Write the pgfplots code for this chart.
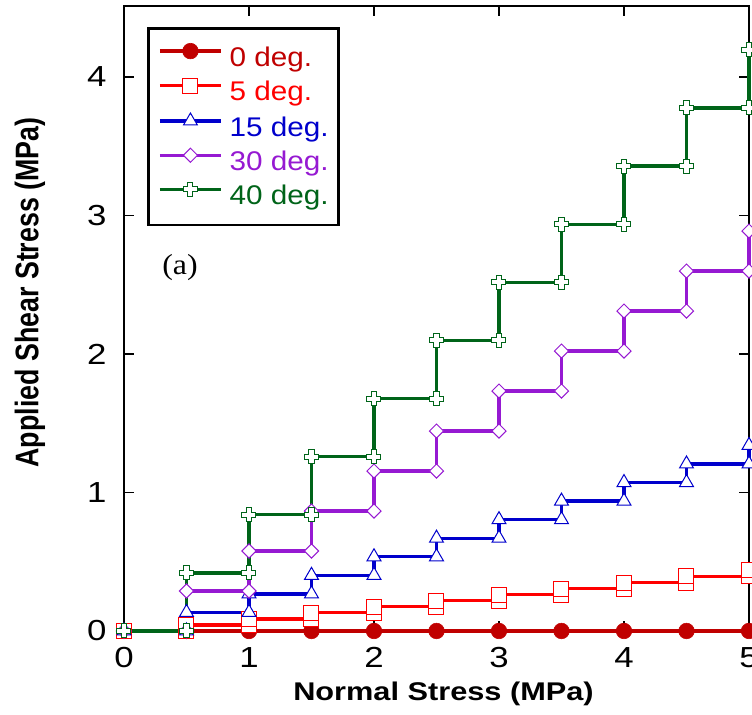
\documentclass[border=0pt]{standalone}
\usepackage{fontspec}
\setmainfont{Liberation Sans}[FakeStretch=1.2]
\newfontfamily\plainsans{Liberation Sans}
\newfontfamily\legsans{Liberation Sans}[FakeStretch=1.1]
\newfontfamily\serifa{Liberation Serif}[FakeStretch=1.1]
\usepackage{graphicx}
\usepackage{pgfplots}
\pgfplotsset{compat=1.18}

\definecolor{c0}{RGB}{192,0,0}
\definecolor{c5}{RGB}{255,0,0}
\definecolor{c15}{RGB}{0,0,204}
\definecolor{c30}{RGB}{150,25,210}
\definecolor{c40}{RGB}{0,100,25}

\pgfdeclareplotmark{oplus}{%
  \pgfpathmoveto{\pgfqpoint{-0.36\pgfplotmarksize}{\pgfplotmarksize}}%
  \pgfpathlineto{\pgfqpoint{0.36\pgfplotmarksize}{\pgfplotmarksize}}%
  \pgfpathlineto{\pgfqpoint{0.36\pgfplotmarksize}{0.36\pgfplotmarksize}}%
  \pgfpathlineto{\pgfqpoint{\pgfplotmarksize}{0.36\pgfplotmarksize}}%
  \pgfpathlineto{\pgfqpoint{\pgfplotmarksize}{-0.36\pgfplotmarksize}}%
  \pgfpathlineto{\pgfqpoint{0.36\pgfplotmarksize}{-0.36\pgfplotmarksize}}%
  \pgfpathlineto{\pgfqpoint{0.36\pgfplotmarksize}{-\pgfplotmarksize}}%
  \pgfpathlineto{\pgfqpoint{-0.36\pgfplotmarksize}{-\pgfplotmarksize}}%
  \pgfpathlineto{\pgfqpoint{-0.36\pgfplotmarksize}{-0.36\pgfplotmarksize}}%
  \pgfpathlineto{\pgfqpoint{-\pgfplotmarksize}{-0.36\pgfplotmarksize}}%
  \pgfpathlineto{\pgfqpoint{-\pgfplotmarksize}{0.36\pgfplotmarksize}}%
  \pgfpathlineto{\pgfqpoint{-0.36\pgfplotmarksize}{0.36\pgfplotmarksize}}%
  \pgfpathclose
  \pgfusepathqfillstroke
}

\begin{document}
\begin{tikzpicture}
\begin{axis}[
  name=ax,
  width=312.5pt, height=312.5pt, scale only axis,
  xmin=0, xmax=5, ymin=0, ymax=4.512,
  xtick={0,1,2,3,4,5}, ytick={0,1,2,3,4},
  clip=false,
  axis line style={black, line width=0.6pt},
  tick align=inside,
  major tick length=5pt,
  tick style={black, line width=0.6pt},
  /pgf/number format/assume math mode=true,
  ticklabel style={font=\fontsize{14.5}{16}\selectfont},
  xticklabel style={inner sep=0pt, yshift=-8pt},
  yticklabel style={inner sep=0pt, xshift=-8.5pt},
  xlabel={\fontsize{12.8}{14}\selectfont\bfseries Normal Stress (MPa)},
  xlabel style={at={(axis description cs:0.5112,-0.1008)}, anchor=center},
  ylabel={\scalebox{1}[1.22]{\fontsize{13.4}{15}\selectfont\plainsans\bfseries Applied Shear Stress (MPa)}},
  ylabel style={at={(axis description cs:-0.1504,0.5416)}, anchor=center},
  legend cell align=left,
  legend style={at={(axis description cs:0.0368,0.9664)}, anchor=north west,
    draw=black, line width=1.3pt, fill=white,
    inner xsep=5pt, inner ysep=7.5pt, row sep=3.25pt,
    font=\fontsize{13.5}{15}\selectfont\legsans,
    nodes={inner sep=0pt, text height=8.5pt, text depth=2.8pt},
    /tikz/every odd column/.append style={column sep=3.5pt}},
  legend image code/.code={%
    \draw[mark repeat=2, mark phase=2, #1] plot coordinates {(0pt,4.7pt) (15.25pt,4.7pt) (30.5pt,4.7pt)};},
]
\addplot[c0, line width=1.65pt, mark=*, mark size=3.9pt, mark options={solid, fill=c0, draw=c0, line width=0.3pt}]
  coordinates {(0,0)(0.5,0)(1,0)(1.5,0)(2,0)(2.5,0)(3,0)(3.5,0)(4,0)(4.5,0)(5,0)};
\addlegendentry{\textcolor{c0}{0 deg.}}

\addplot[c5, line width=1.65pt, mark=square*, mark size=3.75pt, mark options={solid, fill=white, draw=c5, line width=0.5pt}]
  coordinates {(0,0)(0.5,0)(0.5,0.0437)(1,0.0437)(1,0.0875)(1.5,0.0875)(1.5,0.1312)(2,0.1312)(2,0.1750)(2.5,0.1750)(2.5,0.2187)(3,0.2187)(3,0.2624)(3.5,0.2624)(3.5,0.3062)(4,0.3062)(4,0.3499)(4.5,0.3499)(4.5,0.3937)(5,0.3937)(5,0.4374)};
\addlegendentry{\textcolor{c5}{5 deg.}}

\addplot[c15, line width=1.65pt, mark=triangle*, mark size=4pt, mark options={solid, fill=white, draw=c15, line width=0.5pt}]
  coordinates {(0,0)(0.5,0)(0.5,0.1340)(1,0.1340)(1,0.2679)(1.5,0.2679)(1.5,0.4019)(2,0.4019)(2,0.5359)(2.5,0.5359)(2.5,0.6699)(3,0.6699)(3,0.8038)(3.5,0.8038)(3.5,0.9378)(4,0.9378)(4,1.0718)(4.5,1.0718)(4.5,1.2058)(5,1.2058)(5,1.3397)};
\addlegendentry{\textcolor{c15}{15 deg.}}

\addplot[c30, line width=1.65pt, mark=square*, mark size=2.5pt, mark options={solid, fill=white, draw=c30, line width=0.5pt, rotate=45}]
  coordinates {(0,0)(0.5,0)(0.5,0.2887)(1,0.2887)(1,0.5774)(1.5,0.5774)(1.5,0.8660)(2,0.8660)(2,1.1547)(2.5,1.1547)(2.5,1.4434)(3,1.4434)(3,1.7321)(3.5,1.7321)(3.5,2.0207)(4,2.0207)(4,2.3094)(4.5,2.3094)(4.5,2.5981)(5,2.5981)(5,2.8868)};
\addlegendentry{\textcolor{c30}{30 deg.}}

\addplot[c40, line width=1.65pt, mark=oplus, mark size=3.5pt, mark options={solid, fill=white, draw=c40, line width=0.5pt}]
  coordinates {(0,0)(0.5,0)(0.5,0.4195)(1,0.4195)(1,0.8391)(1.5,0.8391)(1.5,1.2586)(2,1.2586)(2,1.6782)(2.5,1.6782)(2.5,2.0977)(3,2.0977)(3,2.5173)(3.5,2.5173)(3.5,2.9368)(4,2.9368)(4,3.3564)(4.5,3.3564)(4.5,3.7759)(5,3.7759)(5,4.1955)};
\addlegendentry{\textcolor{c40}{40 deg.}}

\node[font=\fontsize{14.5}{16}\selectfont\serifa, anchor=center] at (axis description cs:0.0896,0.5808) {(a)};
\end{axis}
\pgfresetboundingbox
\useasboundingbox ([xshift=-62pt,yshift=-42pt]ax.south west) rectangle ([xshift=1.5pt,yshift=3pt]ax.north east);
\end{tikzpicture}
\end{document}
